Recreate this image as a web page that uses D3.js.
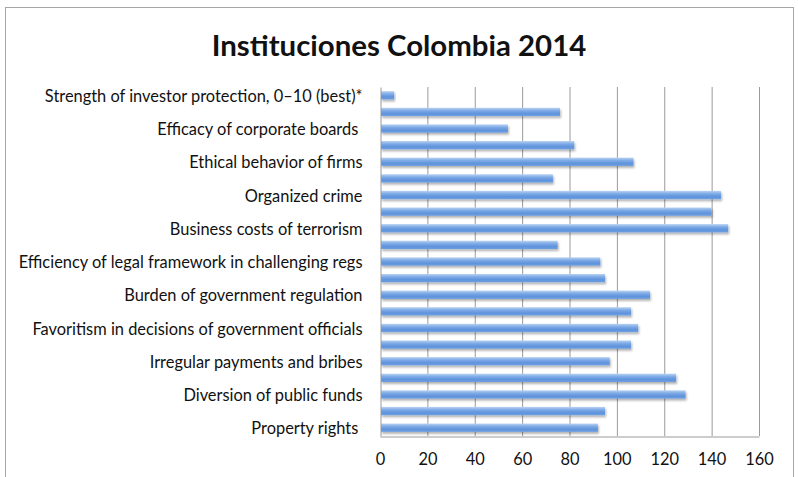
<!DOCTYPE html>
<html>
<head>
<meta charset="utf-8">
<script src="https://cdn.jsdelivr.net/npm/d3@7"></script>
<style>
  html, body { margin: 0; padding: 0; background: #fff; }
  svg { display: block; }
  text { font-family: Lato, "Open Sans", sans-serif; fill: #111; white-space: pre; }
</style>
</head>
<body>
<svg id="chart" width="798" height="477"></svg>
<script>
// Categories, bottom to top (as in the reference)
const categories = [
  "Property rights ",
  "Intellectual property protection",
  "Diversion of public funds",
  "Public trust in politicians",
  "Irregular payments and bribes",
  "Judicial independence",
  "Favoritism in decisions of government officials",
  "Wastefulness of government spending",
  "Burden of government regulation",
  "Efficiency of legal framework in settling disputes",
  "Efficiency of legal framework in challenging regs",
  "Transparency of government policymaking",
  "Business costs of terrorism",
  "Business costs of crime and violence",
  "Organized crime",
  "Reliability of police services",
  "Ethical behavior of firms",
  "Strength of auditing and reporting standards",
  "Efficacy of corporate boards ",
  "Protection of minority shareholders\u2019 interests",
  "Strength of investor protection, 0\u201310 (best)*"
];
// Rank values, same order as categories
const values = [92, 95, 129, 125, 97, 106, 109, 106, 114, 95, 93, 75, 147, 140, 144, 73, 107, 82, 54, 76, 6];
const xTicks = [0, 20, 40, 60, 80, 100, 120, 140, 160];
const title = "Instituciones Colombia 2014";

const svg = d3.select("#chart");

// Outer chart border
svg.append("rect")
  .attr("x", 5.5).attr("y", 7.5)
  .attr("width", 788).attr("height", 480)
  .attr("fill", "none").attr("stroke", "#a6a6a6").attr("stroke-width", 1);

const plot = { left: 380, right: 759, top: 87, bottom: 436 };

const x = d3.scaleLinear().domain([0, 160]).range([plot.left, plot.right]);
const y = d3.scaleBand()
  .domain(categories.slice().reverse())
  .range([plot.top, plot.bottom])
  .paddingInner(0.5)
  .paddingOuter(0.25);

// Defs: gradient + shadow
const defs = svg.append("defs");
const grad = defs.append("linearGradient").attr("id", "barGrad")
  .attr("x1", 0).attr("y1", 0).attr("x2", 0).attr("y2", 1);
grad.append("stop").attr("offset", "0%").attr("stop-color", "#b9d3f3");
grad.append("stop").attr("offset", "35%").attr("stop-color", "#7eaae6");
grad.append("stop").attr("offset", "70%").attr("stop-color", "#5f93dc");
grad.append("stop").attr("offset", "100%").attr("stop-color", "#6e9fe0");
const f = defs.append("filter").attr("id", "shadow")
  .attr("x", "-5%").attr("y", "-50%").attr("width", "115%").attr("height", "220%");
f.append("feDropShadow").attr("dx", 1).attr("dy", 2).attr("stdDeviation", 1.2)
  .attr("flood-color", "#000").attr("flood-opacity", 0.3);

// Gridlines
svg.append("g")
  .selectAll("line")
  .data(xTicks.filter(d => d > 0))
  .join("line")
  .attr("x1", d => x(d) + 0.5).attr("x2", d => x(d) + 0.5)
  .attr("y1", plot.top).attr("y2", plot.bottom)
  .attr("stroke", "#9a9a9a").attr("stroke-width", 1);

// Bars
svg.append("g")
  .selectAll("rect")
  .data(categories.map((c, i) => ({ c, v: values[i] })))
  .join("rect")
  .attr("x", x(0) + 1)
  .attr("y", d => y(d.c))
  .attr("width", d => x(d.v) - x(0) - 1)
  .attr("height", y.bandwidth())
  .attr("fill", "url(#barGrad)")
  .attr("filter", "url(#shadow)");

// X axis
const xAxis = svg.append("g")
  .attr("transform", `translate(0,${plot.bottom + 0.5})`)
  .call(d3.axisBottom(x).tickValues(xTicks).tickSize(0).tickPadding(17).tickFormat(d3.format("d")));
xAxis.select(".domain").attr("stroke", "#9a9a9a");
xAxis.selectAll("text").style("font-size", "16.4px").attr("fill", "#111");

// Y axis
const yAxis = svg.append("g")
  .attr("transform", `translate(${plot.left + 0.5},0)`)
  .call(d3.axisLeft(y).tickSize(0).tickPadding(18));
yAxis.select(".domain").attr("stroke", "#9a9a9a");
yAxis.selectAll(".tick text")
  .style("font-size", "16.4px")
  .attr("fill", "#111")
  .attr("dy", "0.4em")
  .style("display", d => (categories.indexOf(d) % 2 === 0 ? null : "none"));

// Title
svg.append("text")
  .attr("x", 399).attr("y", 56)
  .attr("text-anchor", "middle")
  .style("font-size", "29.4px").style("font-weight", "bold")
  .text(title);
</script>
</body>
</html>
